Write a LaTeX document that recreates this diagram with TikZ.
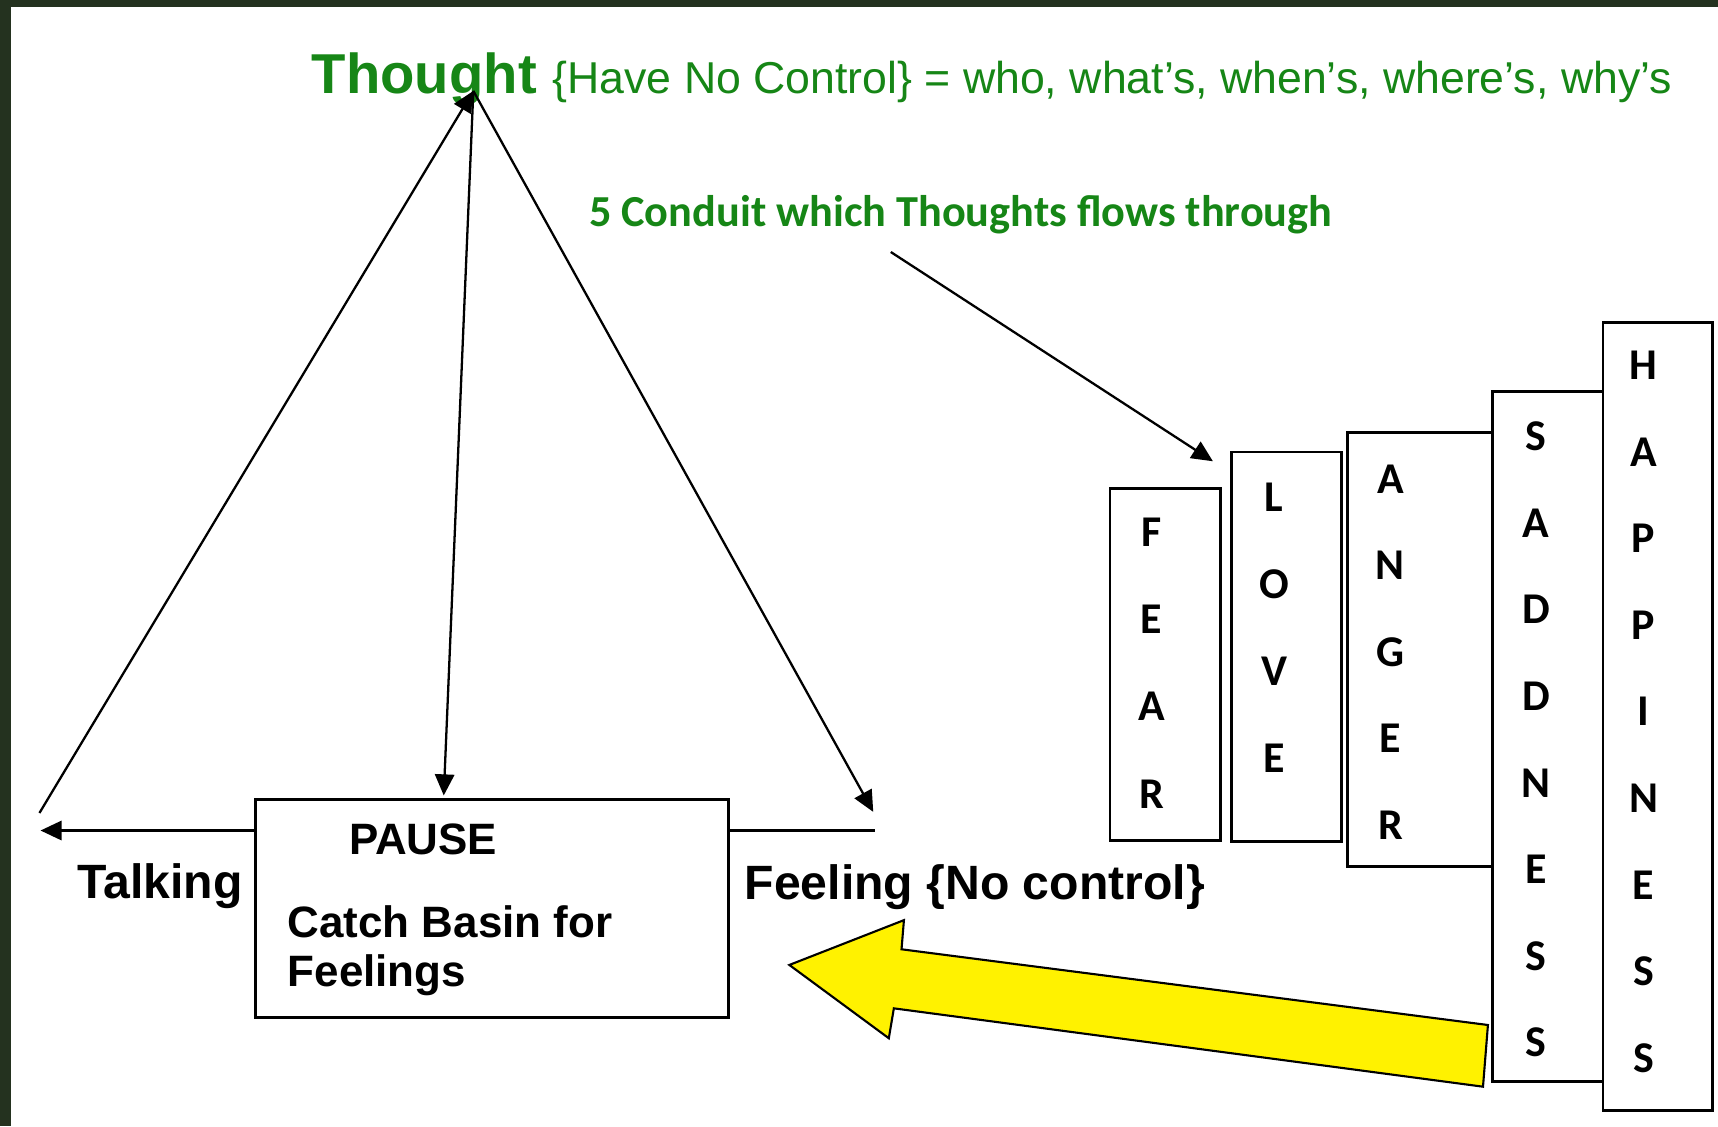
\documentclass[tikz,border=0pt]{standalone}
\usepackage{fontspec}
\setmainfont{Liberation Sans}
\newfontfamily\calibri{Carlito}
\usetikzlibrary{arrows.meta,fit}

\definecolor{thoughtgreen}{RGB}{22,134,22}
\definecolor{slidebg}{RGB}{36,50,31}

\tikzset{
  flow/.style={line width=0.65pt, -{Triangle[length=6pt,width=5.5pt]}},
  emobox/.style={draw=black, thick, fill=white, inner sep=0pt},
  emoletter/.style={font=\calibri\bfseries\fontsize{12.5}{12}\selectfont, inner sep=0pt},
  boldlabel/.style={font=\bfseries\fontsize{13.7}{16}\selectfont, inner sep=0pt, anchor=base west},
  boxlabel/.style={font=\bfseries\fontsize{12.5}{15}\selectfont, inner sep=0pt, anchor=base west},
}

\begin{document}
\begin{tikzpicture}[x=0.010957cm, y=-0.010957cm]
    \useasboundingbox (0,0) rectangle (1568,1028);
    % slide edges
    \fill[white] (0,0) rectangle (1568,1028);
    \fill[slidebg] (0,0) rectangle (10,1028);
    \fill[slidebg] (0,0) rectangle (1568,6);

    % heading
    \node[anchor=base west, inner sep=0pt, text=thoughtgreen] (thought) at (284,85)
        {{\bfseries\fontsize{16}{19}\selectfont Thought}\hspace{4.5pt}{\fontsize{12.7}{15}\selectfont\{Have No Control\} = who, what’s, when’s, where’s, why’s}};
    \node[anchor=base west, inner sep=0pt, text=thoughtgreen, font=\calibri\bfseries\fontsize{12.6}{15}\selectfont] (conduit) at (537,207)
        {5 Conduit which Thoughts flows through};

    \coordinate (apex) at (432,83);
    \coordinate (talkend) at (36,742);
    \coordinate (pausein) at (405,726);
    \coordinate (feelend) at (797,741);
    \coordinate (talktip) at (37,758);
    \coordinate (feeltail) at (799,758);
    \coordinate (conduitstart) at (813,230);
    \coordinate (conduittip) at (1107,421);

    % yellow arrow back to the basin
    \draw[fill=yellow, draw=black, line width=0.6pt] (1358,935.5) -- (822.8,866.4) -- (825,839.8) -- (720.4,880.7)
        -- (811.2,947.6) -- (815.8,920.3) -- (1353.5,991.8) -- cycle;

    % catch basin
    \node[draw=black, thick, fill=white, inner sep=0pt, fit={(233,729.5) (665,928.5)}] (pause) {};
    \node[boxlabel] (pauselabel) at (318,780) {PAUSE};
    \node[boxlabel] (catchlabel) at (262,855.5) {Catch Basin for};
    \node[boxlabel] (feelingslabel) at (262,900.5) {Feelings};

    \node[boldlabel] (talking) at (70,820) {Talking};
    \node[boldlabel] (feeling) at (679,821) {Feeling \{No control\}};

    % thought triangle
    \draw[flow] (talkend) -- (apex);
    \draw[flow] (apex) -- (pausein);
    \draw[flow] (apex) -- (feelend);
    \draw[flow] (talktip -| pause.west) -- (talktip);
    \draw[line width=0.65pt] (feeltail -| pause.east) -- (feeltail);

    \draw[flow] (conduitstart) -- (conduittip);

    % the five conduits
    \node[emobox, fit={(1013,446) (1114,767)}] (fear) {};
    \node[emobox, fit={(1124,412.5) (1224,768)}] (love) {};
    \node[emobox, fit={(1230,395) (1362,791)}] (anger) {};
    \node[emobox, fit={(1362,357) (1463,987)}] (sadness) {};
    \node[emobox, fit={(1463,294) (1563,1013.5)}] (happiness) {};

    \foreach \ch [count=\i] in {F,E,A,R}
        \node[emoletter] (fear-\i) at (1051,{486+79.5*(\i-1)}) {\ch};
    \foreach \ch [count=\i] in {L,O,V,E}
        \node[emoletter] (love-\i) at (1163,{454+79.5*(\i-1)}) {\ch};
    \foreach \ch [count=\i] in {A,N,G,E,R}
        \node[emoletter] (anger-\i) at (1269,{437+79*(\i-1)}) {\ch};
    \foreach \ch [count=\i] in {S,A,D,D,N,E,S,S}
        \node[emoletter] (sadness-\i) at (1402,{398.5+79*(\i-1)}) {\ch};
    \foreach \ch [count=\i] in {H,A,P,P,I,N,E,S,S}
        \node[emoletter] (happiness-\i) at (1500,{333.5+79*(\i-1)}) {\ch};
\end{tikzpicture}
\end{document}
